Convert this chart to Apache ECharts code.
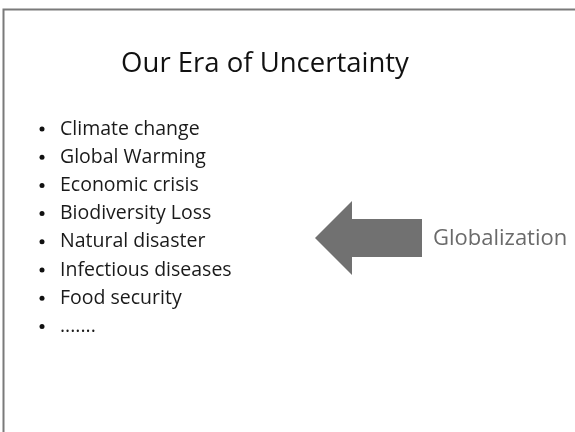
<!DOCTYPE html>
<html>
<head>
<meta charset="utf-8">
<script src="https://cdn.jsdelivr.net/npm/echarts@6/dist/echarts.min.js"></script>
<style>
html,body{margin:0;padding:0;background:#fff;}
#main{width:575px;height:432px;}
</style>
</head>
<body>
<div id="main"></div>
<script>
var slideTitle = "Our Era of Uncertainty";
var bulletItems = ["Climate change", "Global Warming", "Economic crisis", "Biodiversity Loss", "Natural disaster", "Infectious diseases", "Food security", "......."];
var arrowLabel = "Globalization";

var FONT = "'Open Sans', 'Noto Sans', sans-serif";
var chart = echarts.init(document.getElementById('main'), null, {renderer: 'canvas'});

var elements = [];
// slide border
elements.push({type: 'polyline', shape: {points: [[3.5, 432], [3.5, 9.5], [575, 9.5]]},
  style: {stroke: '#7a7a7a', lineWidth: 2, fill: null}});
// title
elements.push({type: 'text', x: 265, y: 64, style: {text: slideTitle, font: "27.5px " + FONT,
  fill: '#111', align: 'center', verticalAlign: 'middle'}});
// bullets
bulletItems.forEach(function (t, i) {
  var y = 129 + i * 28.2;
  elements.push({type: 'circle', shape: {cx: 42, cy: y, r: 2.5}, style: {fill: '#111'}});
  elements.push({type: 'text', x: 60, y: y, style: {text: t, font: "19.5px " + FONT,
    fill: '#1a1a1a', align: 'left', verticalAlign: 'middle'}});
});
// arrow
elements.push({type: 'polygon', shape: {points: [[315, 238], [352, 201], [352, 219], [422, 219], [422, 257], [352, 257], [352, 275]]},
  style: {fill: '#717171'}});
elements.push({type: 'text', x: 433, y: 239, style: {text: arrowLabel, font: "22px " + FONT,
  fill: '#6a6a6a', align: 'left', verticalAlign: 'middle'}});

chart.setOption({backgroundColor: '#fff', animation: false, graphic: {elements: elements}});
</script>
</body>
</html>
